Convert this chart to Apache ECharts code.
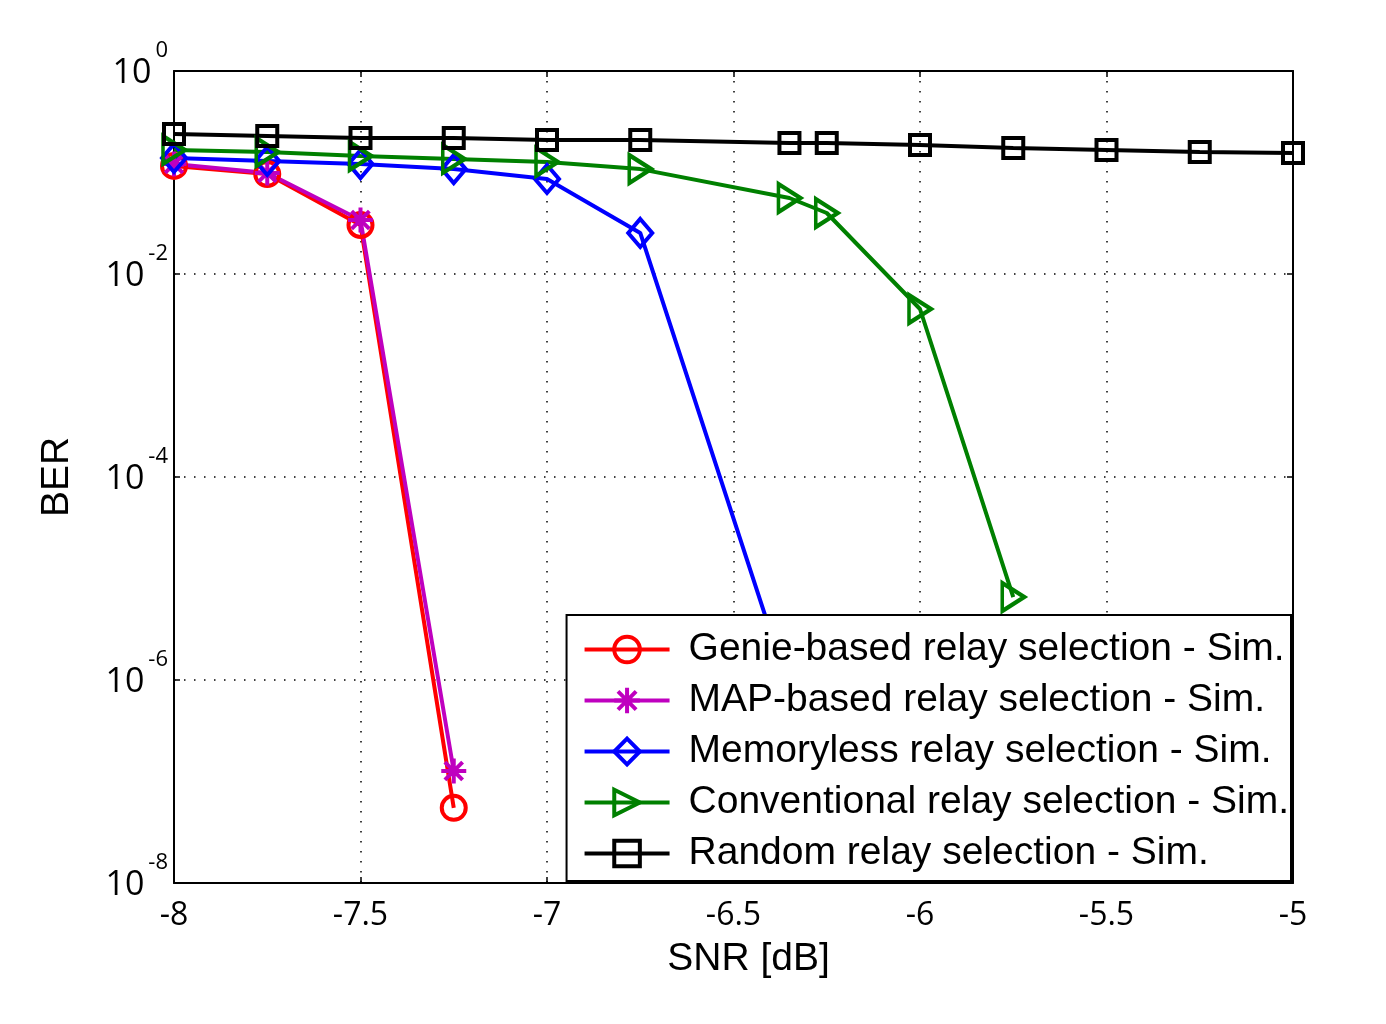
<!DOCTYPE html>
<html>
<head>
<meta charset="utf-8">
<script src="https://cdn.jsdelivr.net/npm/echarts@6/dist/echarts.min.js"></script>
<style>
  html, body { margin: 0; padding: 0; background: #fff; }
  #chart { width: 1386px; height: 1024px; }
</style>
</head>
<body>
<div id="chart"></div>
<script>
// SNR points (dB) for each curve
var snrGenie = [-8, -7.75, -7.5, -7.25];
var snrMap = [-8, -7.75, -7.5, -7.25];
var snrMem = [-8, -7.75, -7.5, -7.25, -7, -6.75, -6.25];
var snrConv = [-8, -7.75, -7.5, -7.25, -7, -6.75, -6.35, -6.25, -6, -5.75];
var snrRand = [-8, -7.75, -7.5, -7.25, -7, -6.75, -6.35, -6.25, -6, -5.75, -5.5, -5.25, -5];

// BER values
var berGenie = [0.116, 0.0966, 0.0304, 5.5e-8];
var berMap = [0.121, 0.0989, 0.034, 1.27e-7];
var berMem = [0.139, 0.130, 0.121, 0.108, 0.0863, 0.0254, 6e-8];
var berConv = [0.167, 0.159, 0.145, 0.136, 0.127, 0.108, 0.0561, 0.0399, 0.00452, 6.57e-6];
var berRand = [0.239, 0.229, 0.219, 0.219, 0.209, 0.209, 0.195, 0.195, 0.187, 0.174, 0.167, 0.159, 0.156];

var names = [
  'Genie-based relay selection - Sim.',
  'MAP-based relay selection - Sim.',
  'Memoryless relay selection - Sim.',
  'Conventional relay selection - Sim.',
  'Random relay selection - Sim.'
];

function pairs(xs, ys) {
  return xs.map(function (x, i) { return [x, ys[i]]; });
}

function mkSeries(name, xs, ys, color, symbol, size) {
  return {
    name: name,
    type: 'line',
    data: pairs(xs, ys),
    symbol: symbol,
    symbolSize: size,
    showAllSymbol: true,
    lineStyle: { color: color, width: 4 },
    itemStyle: { color: 'rgba(0,0,0,0)', borderColor: color, borderWidth: 4 },
    emphasis: { disabled: true },
    z: 3
  };
}

var starPath = 'path://M5,0L5,10M0,5L10,5M1.46,1.46L8.54,8.54M8.54,1.46L1.46,8.54';
var triPath = 'path://M0,0L10,5L0,10Z';

var chart = echarts.init(document.getElementById('chart'));

var gridLine = { show: true, lineStyle: { color: '#000', width: 1.5, type: [1.5, 8.5] } };

var option = {
  animation: false,
  backgroundColor: '#fff',
  grid: { left: 174, top: 71, right: 93, bottom: 141, containLabel: false },
  xAxis: [{
    type: 'value',
    min: -8, max: -5, interval: 0.5,
    name: 'SNR [dB]',
    nameLocation: 'middle',
    nameGap: 57,
    nameTextStyle: { fontFamily: 'Liberation Sans', fontSize: 39, color: '#000', padding: [0, 0, 0, 30] },
    axisLine: { lineStyle: { color: '#000', width: 2 } },
    axisTick: { inside: true, length: 6, lineStyle: { color: '#000', width: 1.5 } },
    axisLabel: { fontFamily: 'Open Sans', fontSize: 32, color: '#000', margin: 17 },
    splitLine: gridLine
  }, {
    type: 'value', position: 'top',
    min: -8, max: -5, interval: 0.5,
    axisLine: { lineStyle: { color: '#000', width: 2 } },
    axisTick: { inside: true, length: 6, lineStyle: { color: '#000', width: 1.5 } },
    axisLabel: { show: false },
    splitLine: { show: false }
  }],
  yAxis: [{
    type: 'log',
    logBase: 10,
    min: 1e-8, max: 1, interval: 2,
    name: 'BER',
    nameLocation: 'middle',
    nameGap: 97,
    nameTextStyle: { fontFamily: 'Liberation Sans', fontSize: 39, color: '#000' },
    axisLine: { show: true, lineStyle: { color: '#000', width: 2 } },
    axisTick: { show: true, inside: true, length: 6, lineStyle: { color: '#000', width: 1.5 } },
    axisLabel: {
      margin: 6,
      formatter: function (v) {
        var e = Math.round(Math.log10(v));
        return '{b|10}{s|' + e + '}';
      },
      rich: {
        b: { fontFamily: 'Open Sans', fontSize: 34, color: '#000', padding: [4, 0, 0, 0] },
        s: { fontFamily: 'Open Sans', fontSize: 22, color: '#000', padding: [0, 0, 40, 4] }
      }
    },
    splitLine: gridLine
  }, {
    type: 'log', position: 'right',
    logBase: 10,
    min: 1e-8, max: 1, interval: 2,
    axisLine: { show: true, lineStyle: { color: '#000', width: 2 } },
    axisTick: { show: true, inside: true, length: 6, lineStyle: { color: '#000', width: 1.5 } },
    axisLabel: { show: false },
    splitLine: { show: false }
  }],
  legend: {
    data: names,
    orient: 'vertical',
    right: 95,
    bottom: 143,
    backgroundColor: '#fff',
    borderColor: '#000',
    borderWidth: 2,
    borderRadius: 0,
    padding: [15, 2, 8, 16],
    itemWidth: 85,
    itemHeight: 32,
    itemGap: 12,
    itemStyle: { borderWidth: 4 },
    lineStyle: { width: 4 },
    textStyle: { fontFamily: 'Liberation Sans', fontSize: 39, lineHeight: 39, color: '#000', padding: [0, 0, 0, 14] },
    z: 10
  },
  series: [
    mkSeries(names[0], snrGenie, berGenie, '#ff0000', 'circle', 24),
    mkSeries(names[1], snrMap, berMap, '#bf00bf', starPath, 25),
    mkSeries(names[2], snrMem, berMem, '#0000ff', 'diamond', [24, 28]),
    mkSeries(names[3], snrConv, berConv, '#008000', triPath, [22, 28]),
    mkSeries(names[4], snrRand, berRand, '#000000', 'rect', 20)
  ]
};

chart.setOption(option);
</script>
</body>
</html>
